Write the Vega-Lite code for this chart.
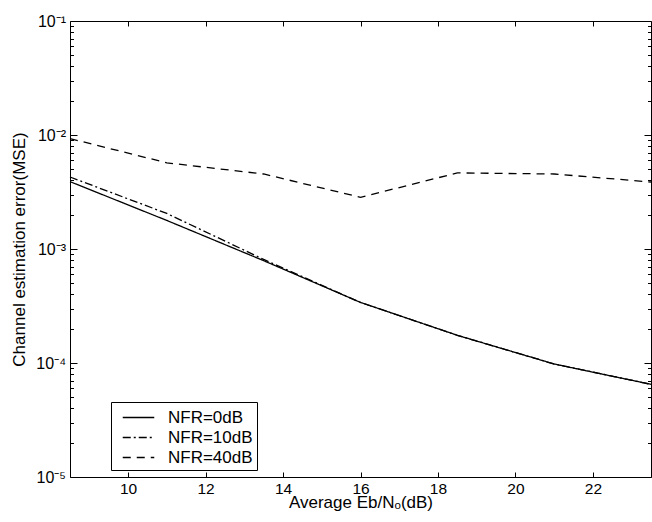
{
  "$schema": "https://vega.github.io/schema/vega-lite/v6.json",
  "width": 581,
  "height": 456,
  "autosize": {"type": "none"},
  "padding": {"left": 70, "top": 21, "right": 1, "bottom": 45},
  "background": "white",
  "config": {
    "view": {"stroke": "black", "strokeWidth": 1, "fill": null},
    "font": "Liberation Sans",
    "axis": {
      "domain": false,
      "ticks": false,
      "gridColor": "black",
      "gridOpacity": 1,
      "gridWidth": 1,
      "labelColor": "black",
      "titleColor": "black",
      "labelFont": "Liberation Sans",
      "titleFont": "Liberation Sans",
      "titleFontWeight": "normal"
    }
  },
  "data": {
    "values": [
      {"x": 8.5, "mse": 0.0039, "series": "NFR=0dB"},
      {"x": 11, "mse": 0.00178, "series": "NFR=0dB"},
      {"x": 13.5, "mse": 0.00079, "series": "NFR=0dB"},
      {"x": 16, "mse": 0.00034, "series": "NFR=0dB"},
      {"x": 18.5, "mse": 0.000175, "series": "NFR=0dB"},
      {"x": 21, "mse": 0.000098, "series": "NFR=0dB"},
      {"x": 23.5, "mse": 0.000065, "series": "NFR=0dB"},
      {"x": 8.5, "mse": 0.00428, "series": "NFR=10dB"},
      {"x": 11, "mse": 0.00205, "series": "NFR=10dB"},
      {"x": 13.5, "mse": 0.00081, "series": "NFR=10dB"},
      {"x": 16, "mse": 0.00034, "series": "NFR=10dB"},
      {"x": 18.5, "mse": 0.000175, "series": "NFR=10dB"},
      {"x": 21, "mse": 0.000098, "series": "NFR=10dB"},
      {"x": 23.5, "mse": 0.000065, "series": "NFR=10dB"},
      {"x": 8.5, "mse": 0.0093, "series": "NFR=40dB"},
      {"x": 11, "mse": 0.0057, "series": "NFR=40dB"},
      {"x": 13.5, "mse": 0.00455, "series": "NFR=40dB"},
      {"x": 16, "mse": 0.00284, "series": "NFR=40dB"},
      {"x": 18.5, "mse": 0.00465, "series": "NFR=40dB"},
      {"x": 21, "mse": 0.00455, "series": "NFR=40dB"},
      {"x": 23.5, "mse": 0.00387, "series": "NFR=40dB"}
    ]
  },
  "resolve": {"axis": {"x": "independent", "y": "independent"}},
  "layer": [
    {
      "mark": {"type": "line", "stroke": "black", "strokeWidth": 1.3},
      "encoding": {
        "x": {
          "field": "x", "type": "quantitative",
          "scale": {"domain": [8.5, 23.5], "nice": false, "zero": false},
          "axis": {
            "orient": "bottom", "values": [10, 12, 14, 16, 18, 20, 22],
            "grid": true, "gridDash": [5, 446, 5, 1000], "zindex": 2,
            "labelPadding": 4, "labelFontSize": 15.5, "labelFlush": false,
            "title": "Average Eb/Nₒ(dB)", "titleFontSize": 17,
            "titleX": 290.5, "titleY": 30.5, "titleBaseline": "alphabetic", "titleAlign": "center"
          }
        },
        "y": {
          "field": "mse", "type": "quantitative",
          "scale": {"type": "log", "domain": [0.00001, 0.1], "nice": false},
          "axis": {
            "orient": "left", "values": [0.00001, 0.0001, 0.001, 0.01, 0.1],
            "grid": true, "gridDash": [7, 567, 7, 1000], "zindex": 2,
            "labelPadding": 4.5, "labelFontSize": 16, "labelFlush": false,
            "labelExpr": "['10⁻⁵','10⁻⁴','10⁻³','10⁻²','10⁻¹'][round(log(datum.value)/LN10)+5]",
            "title": "Channel estimation error(MSE)", "titleFontSize": 17,
            "titleX": -51, "titleY": 228, "titleAlign": "center", "titleBaseline": "middle", "titleAngle": 270
          }
        },
        "strokeDash": {
          "field": "series", "type": "nominal",
          "scale": {"domain": ["NFR=0dB", "NFR=10dB", "NFR=40dB"], "range": [[1, 0], [8, 3, 2, 3], [8, 6]]},
          "legend": {
            "title": null, "orient": "none", "legendX": 41, "legendY": 381,
            "strokeColor": "black", "fillColor": "white", "padding": 4, "rowPadding": 0,
            "symbolType": "M-1.5,0H1.5", "symbolSize": 441, "symbolStrokeWidth": 1.3,
            "symbolStrokeColor": "black", "symbolFillColor": "transparent", "symbolOffset": 12, "labelOffset": 18,
            "labelFontSize": 17, "labelFont": "Liberation Sans", "labelColor": "black", "zindex": 3
          }
        }
      }
    },
    {
      "mark": {"type": "line", "strokeOpacity": 0},
      "encoding": {
        "x": {
          "field": "x", "type": "quantitative",
          "scale": {"domain": [8.5, 23.5], "nice": false, "zero": false},
          "axis": null
        },
        "y": {
          "field": "mse", "type": "quantitative",
          "scale": {"type": "log", "domain": [0.00001, 0.1], "nice": false},
          "axis": {
            "orient": "right", "zindex": 2,
            "values": [0.00002, 0.00003, 0.00004, 0.00005, 0.00006, 0.00007, 0.00008, 0.00009, 0.0002, 0.0003, 0.0004, 0.0005, 0.0006, 0.0007, 0.0008, 0.0009, 0.002, 0.003, 0.004, 0.005, 0.006, 0.007, 0.008, 0.009, 0.02, 0.03, 0.04, 0.05, 0.06, 0.07, 0.08, 0.09],
            "grid": true, "gridDash": [3.5, 574, 3.5, 1000], "labels": false, "title": null
          }
        },
        "detail": {"field": "series", "type": "nominal"}
      }
    }
  ]
}
